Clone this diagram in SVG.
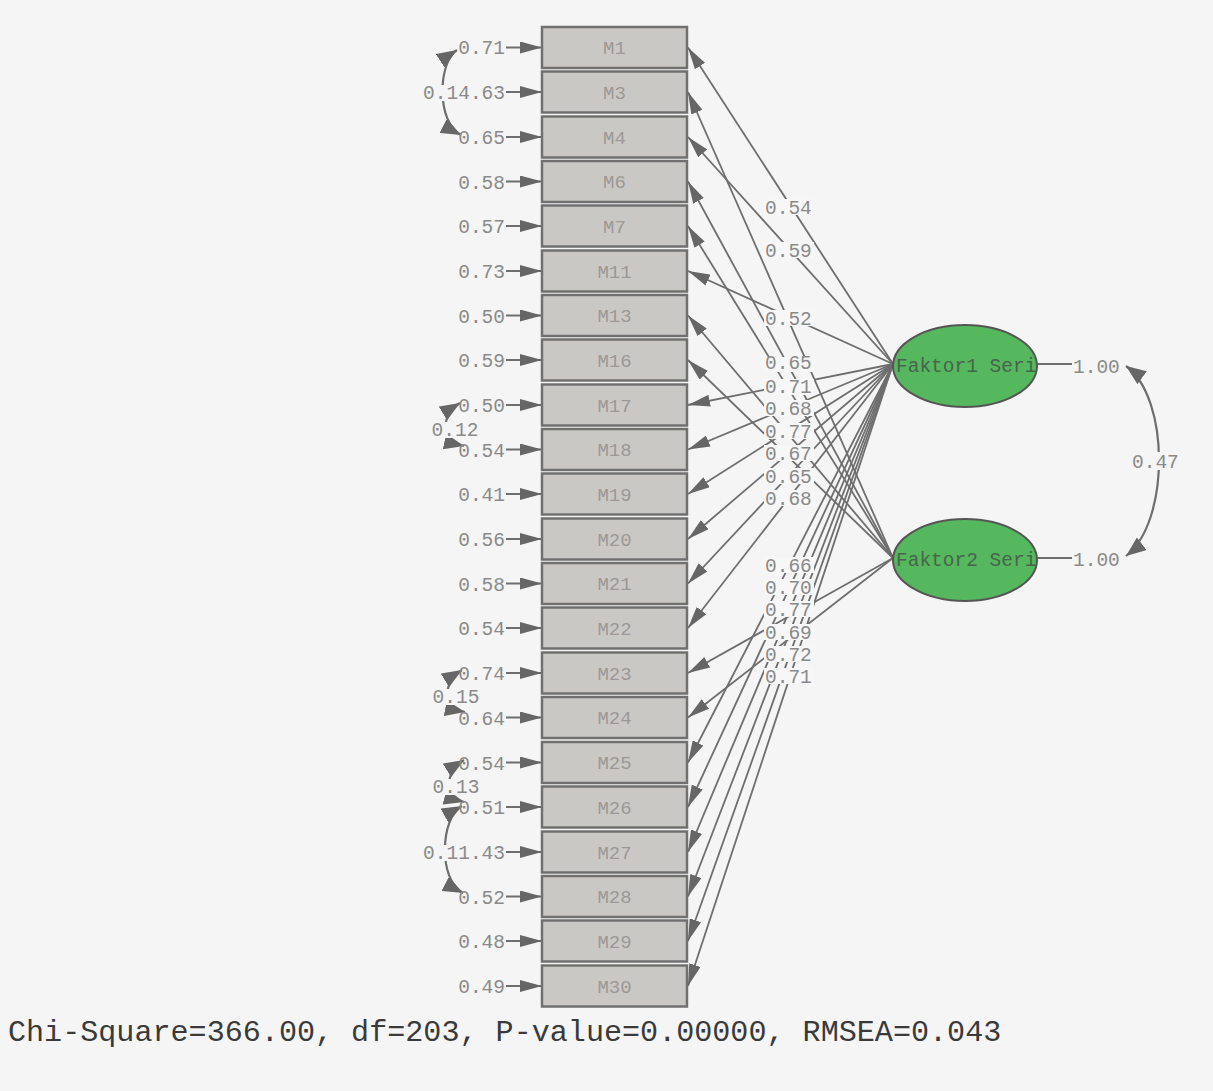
<svg xmlns="http://www.w3.org/2000/svg" width="1213" height="1091" viewBox="0 0 1213 1091">
<defs>
<style>
.bg{fill:#f4f5f4}
.box{fill:#cac8c5;stroke:#707070;stroke-width:2.5}
.bt{font-family:"Liberation Mono",monospace;font-size:19px;fill:#9c9896;text-anchor:middle}
.lab{font-family:"Liberation Mono",monospace;font-size:19.5px;fill:#8a8a8a}
.end{text-anchor:end}
.mid{text-anchor:middle}
.ln{stroke:#6e6e6e;stroke-width:1.8;fill:none}
.cv{stroke:#6e6e6e;stroke-width:2.2;fill:none}
.wb{fill:#f7f7f7}
.pb{fill:#f4f5f4}
.ell{fill:#55b75e;stroke:#555;stroke-width:2}
.et{font-family:"Liberation Mono",monospace;font-size:19.5px;fill:#48654c}
.foot{font-family:"Liberation Mono",monospace;font-size:30.1px;fill:#3a3a3a}
</style>
<marker id="ah" markerUnits="userSpaceOnUse" markerWidth="24" markerHeight="12" refX="22" refY="6" orient="auto"><path d="M0,0 L22,6 L0,12 z" fill="#666"/></marker>
<marker id="ac" markerUnits="userSpaceOnUse" markerWidth="22" markerHeight="16" refX="20" refY="8" orient="auto-start-reverse"><path d="M0,0 L20,8 L0,16 z" fill="#666"/></marker>
</defs>
<rect class="bg" x="0" y="0" width="1213" height="1091"/>

<g id="connectors">
<!-- error variance arrows -->
<g>
<line class="ln" x1="506" y1="47.5" x2="542" y2="47.5" marker-end="url(#ah)"/>
<line class="ln" x1="506" y1="92" x2="542" y2="92" marker-end="url(#ah)"/>
<line class="ln" x1="506" y1="137" x2="542" y2="137" marker-end="url(#ah)"/>
<line class="ln" x1="506" y1="181.5" x2="542" y2="181.5" marker-end="url(#ah)"/>
<line class="ln" x1="506" y1="226" x2="542" y2="226" marker-end="url(#ah)"/>
<line class="ln" x1="506" y1="271" x2="542" y2="271" marker-end="url(#ah)"/>
<line class="ln" x1="506" y1="315.5" x2="542" y2="315.5" marker-end="url(#ah)"/>
<line class="ln" x1="506" y1="360" x2="542" y2="360" marker-end="url(#ah)"/>
<line class="ln" x1="506" y1="405" x2="542" y2="405" marker-end="url(#ah)"/>
<line class="ln" x1="506" y1="449.5" x2="542" y2="449.5" marker-end="url(#ah)"/>
<line class="ln" x1="506" y1="494" x2="542" y2="494" marker-end="url(#ah)"/>
<line class="ln" x1="506" y1="539" x2="542" y2="539" marker-end="url(#ah)"/>
<line class="ln" x1="506" y1="583.5" x2="542" y2="583.5" marker-end="url(#ah)"/>
<line class="ln" x1="506" y1="628" x2="542" y2="628" marker-end="url(#ah)"/>
<line class="ln" x1="506" y1="673" x2="542" y2="673" marker-end="url(#ah)"/>
<line class="ln" x1="506" y1="717.5" x2="542" y2="717.5" marker-end="url(#ah)"/>
<line class="ln" x1="506" y1="762.5" x2="542" y2="762.5" marker-end="url(#ah)"/>
<line class="ln" x1="506" y1="807" x2="542" y2="807" marker-end="url(#ah)"/>
<line class="ln" x1="506" y1="852" x2="542" y2="852" marker-end="url(#ah)"/>
<line class="ln" x1="506" y1="896.5" x2="542" y2="896.5" marker-end="url(#ah)"/>
<line class="ln" x1="506" y1="941" x2="542" y2="941" marker-end="url(#ah)"/>
<line class="ln" x1="506" y1="986" x2="542" y2="986" marker-end="url(#ah)"/>
</g>
<!-- factor loadings -->
<g>
<line class="ln" x1="893" y1="364" x2="688" y2="47.5" marker-end="url(#ah)"/>
<line class="ln" x1="893" y1="558" x2="688" y2="92" marker-end="url(#ah)"/>
<line class="ln" x1="893" y1="364" x2="688" y2="137" marker-end="url(#ah)"/>
<line class="ln" x1="893" y1="558" x2="688" y2="181.5" marker-end="url(#ah)"/>
<line class="ln" x1="893" y1="558" x2="688" y2="226" marker-end="url(#ah)"/>
<line class="ln" x1="893" y1="364" x2="688" y2="271" marker-end="url(#ah)"/>
<line class="ln" x1="893" y1="558" x2="688" y2="315.5" marker-end="url(#ah)"/>
<line class="ln" x1="893" y1="558" x2="688" y2="360" marker-end="url(#ah)"/>
<line class="ln" x1="893" y1="364" x2="688" y2="405" marker-end="url(#ah)"/>
<line class="ln" x1="893" y1="364" x2="688" y2="449.5" marker-end="url(#ah)"/>
<line class="ln" x1="893" y1="364" x2="688" y2="494" marker-end="url(#ah)"/>
<line class="ln" x1="893" y1="364" x2="688" y2="539" marker-end="url(#ah)"/>
<line class="ln" x1="893" y1="364" x2="688" y2="583.5" marker-end="url(#ah)"/>
<line class="ln" x1="893" y1="364" x2="688" y2="628" marker-end="url(#ah)"/>
<line class="ln" x1="893" y1="558" x2="688" y2="673" marker-end="url(#ah)"/>
<line class="ln" x1="893" y1="558" x2="688" y2="717.5" marker-end="url(#ah)"/>
<line class="ln" x1="893" y1="364" x2="688" y2="762.5" marker-end="url(#ah)"/>
<line class="ln" x1="893" y1="364" x2="688" y2="807" marker-end="url(#ah)"/>
<line class="ln" x1="893" y1="364" x2="688" y2="852" marker-end="url(#ah)"/>
<line class="ln" x1="893" y1="364" x2="688" y2="896.5" marker-end="url(#ah)"/>
<line class="ln" x1="893" y1="364" x2="688" y2="941" marker-end="url(#ah)"/>
<line class="ln" x1="893" y1="364" x2="688" y2="986" marker-end="url(#ah)"/>
</g>
<!-- error covariances -->
<g>
<path class="cv" d="M457,50 C438,62 436,122 461,135" marker-start="url(#ac)" marker-end="url(#ac)"/>
<path class="cv" d="M460,403 C442,414 438,440 464,446" marker-start="url(#ac)" marker-end="url(#ac)"/>
<path class="cv" d="M462,670 C444,681 440,707 465,712" marker-start="url(#ac)" marker-end="url(#ac)"/>
<path class="cv" d="M464,760 C446,771 442,796 464,802" marker-start="url(#ac)" marker-end="url(#ac)"/>
<path class="cv" d="M462,806 C440,818 438,880 463,893" marker-start="url(#ac)" marker-end="url(#ac)"/>
</g>
<!-- factor variances and covariance -->
<line class="ln" x1="1037" y1="364" x2="1072" y2="364" stroke-width="1.2"/>
<line class="ln" x1="1037" y1="558" x2="1072" y2="558" stroke-width="1.2"/>
<path class="cv" d="M1126,366 C1170,398 1170,522 1126,556" marker-start="url(#ac)" marker-end="url(#ac)"/>
</g>

<g id="loading-labels">
<rect class="wb" x="764" y="199" width="50" height="16"/><text class="lab" x="765" y="213.5">0.54</text>
<rect class="wb" x="764" y="242" width="50" height="16"/><text class="lab" x="765" y="256.5">0.59</text>
<rect class="wb" x="764" y="310" width="50" height="16"/><text class="lab" x="765" y="324.5">0.52</text>
<rect class="wb" x="764" y="357" width="50" height="15"/><text class="lab" x="765" y="369">0.65</text>
<rect class="wb" x="764" y="379" width="50" height="16"/><text class="lab" x="765" y="393">0.71</text>
<rect class="wb" x="764" y="400" width="50" height="16"/><text class="lab" x="765" y="414.5">0.68</text>
<rect class="wb" x="764" y="423" width="50" height="16"/><text class="lab" x="765" y="437.5">0.77</text>
<rect class="wb" x="764" y="445" width="50" height="16"/><text class="lab" x="765" y="459.5">0.67</text>
<rect class="wb" x="764" y="468" width="50" height="16"/><text class="lab" x="765" y="482.5">0.65</text>
<rect class="wb" x="764" y="490" width="50" height="16"/><text class="lab" x="765" y="504.5">0.68</text>
<rect class="wb" x="764" y="557" width="50" height="16"/><text class="lab" x="765" y="571.5">0.66</text>
<rect class="wb" x="764" y="579" width="50" height="16"/><text class="lab" x="765" y="593.5">0.70</text>
<rect class="wb" x="764" y="601" width="50" height="16"/><text class="lab" x="765" y="615.5">0.77</text>
<rect class="wb" x="764" y="624" width="50" height="16"/><text class="lab" x="765" y="638.5">0.69</text>
<rect class="wb" x="764" y="646" width="50" height="16"/><text class="lab" x="765" y="660.5">0.72</text>
<rect class="wb" x="764" y="668" width="50" height="16"/><text class="lab" x="765" y="682.5">0.71</text>
</g>

<g id="error-labels">
<text class="lab end" x="505" y="54">0.71</text>
<rect class="pb" x="421" y="85" width="84" height="16"/>
<text class="lab end" x="505" y="99">0.14.63</text>
<text class="lab end" x="505" y="144">0.65</text>
<text class="lab end" x="505" y="188.5">0.58</text>
<text class="lab end" x="505" y="233">0.57</text>
<text class="lab end" x="505" y="278">0.73</text>
<text class="lab end" x="505" y="322.5">0.50</text>
<text class="lab end" x="505" y="367">0.59</text>
<text class="lab end" x="505" y="412">0.50</text>
<rect class="pb" x="431" y="422" width="48" height="16"/>
<text class="lab mid" x="455" y="436">0.12</text>
<text class="lab end" x="505" y="456.5">0.54</text>
<text class="lab end" x="505" y="501">0.41</text>
<text class="lab end" x="505" y="546">0.56</text>
<text class="lab end" x="505" y="590.5">0.58</text>
<text class="lab end" x="505" y="635">0.54</text>
<text class="lab end" x="505" y="680">0.74</text>
<rect class="pb" x="432" y="689" width="48" height="16"/>
<text class="lab mid" x="456" y="703">0.15</text>
<text class="lab end" x="505" y="724.5">0.64</text>
<text class="lab end" x="505" y="769.5">0.54</text>
<rect class="pb" x="432" y="779" width="48" height="16"/>
<text class="lab mid" x="456" y="793">0.13</text>
<text class="lab end" x="505" y="814">0.51</text>
<rect class="pb" x="421" y="845" width="84" height="16"/>
<text class="lab end" x="505" y="859">0.11.43</text>
<text class="lab end" x="505" y="903.5">0.52</text>
<text class="lab end" x="505" y="948">0.48</text>
<text class="lab end" x="505" y="993">0.49</text>
</g>

<g id="M1"><rect class="box" x="542" y="27" width="145" height="41"/><text class="bt" x="614.5" y="54">M1</text></g>
<g id="M3"><rect class="box" x="542" y="71.5" width="145" height="41"/><text class="bt" x="614.5" y="98.5">M3</text></g>
<g id="M4"><rect class="box" x="542" y="116.5" width="145" height="41"/><text class="bt" x="614.5" y="143.5">M4</text></g>
<g id="M6"><rect class="box" x="542" y="161" width="145" height="41"/><text class="bt" x="614.5" y="188">M6</text></g>
<g id="M7"><rect class="box" x="542" y="205.5" width="145" height="41"/><text class="bt" x="614.5" y="232.5">M7</text></g>
<g id="M11"><rect class="box" x="542" y="250.5" width="145" height="41"/><text class="bt" x="614.5" y="277.5">M11</text></g>
<g id="M13"><rect class="box" x="542" y="295" width="145" height="41"/><text class="bt" x="614.5" y="322">M13</text></g>
<g id="M16"><rect class="box" x="542" y="339.5" width="145" height="41"/><text class="bt" x="614.5" y="366.5">M16</text></g>
<g id="M17"><rect class="box" x="542" y="384.5" width="145" height="41"/><text class="bt" x="614.5" y="411.5">M17</text></g>
<g id="M18"><rect class="box" x="542" y="429" width="145" height="41"/><text class="bt" x="614.5" y="456">M18</text></g>
<g id="M19"><rect class="box" x="542" y="473.5" width="145" height="41"/><text class="bt" x="614.5" y="500.5">M19</text></g>
<g id="M20"><rect class="box" x="542" y="518.5" width="145" height="41"/><text class="bt" x="614.5" y="545.5">M20</text></g>
<g id="M21"><rect class="box" x="542" y="563" width="145" height="41"/><text class="bt" x="614.5" y="590">M21</text></g>
<g id="M22"><rect class="box" x="542" y="607.5" width="145" height="41"/><text class="bt" x="614.5" y="634.5">M22</text></g>
<g id="M23"><rect class="box" x="542" y="652.5" width="145" height="41"/><text class="bt" x="614.5" y="679.5">M23</text></g>
<g id="M24"><rect class="box" x="542" y="697" width="145" height="41"/><text class="bt" x="614.5" y="724">M24</text></g>
<g id="M25"><rect class="box" x="542" y="742" width="145" height="41"/><text class="bt" x="614.5" y="769">M25</text></g>
<g id="M26"><rect class="box" x="542" y="786.5" width="145" height="41"/><text class="bt" x="614.5" y="813.5">M26</text></g>
<g id="M27"><rect class="box" x="542" y="831.5" width="145" height="41"/><text class="bt" x="614.5" y="858.5">M27</text></g>
<g id="M28"><rect class="box" x="542" y="876" width="145" height="41"/><text class="bt" x="614.5" y="903">M28</text></g>
<g id="M29"><rect class="box" x="542" y="920.5" width="145" height="41"/><text class="bt" x="614.5" y="947.5">M29</text></g>
<g id="M30"><rect class="box" x="542" y="965.5" width="145" height="41"/><text class="bt" x="614.5" y="992.5">M30</text></g>

<g id="Faktor1"><ellipse class="ell" cx="965" cy="366" rx="72" ry="41"/><text class="et" x="896" y="372">Faktor1 Seri</text></g>
<g id="Faktor2"><ellipse class="ell" cx="965" cy="560" rx="72" ry="41"/><text class="et" x="896" y="566">Faktor2 Seri</text></g>

<g id="factor-labels">
<text class="lab" x="1073" y="373">1.00</text>
<text class="lab" x="1073" y="566">1.00</text>
<rect class="pb" x="1131" y="452" width="48" height="18"/>
<text class="lab" x="1132" y="468">0.47</text>
</g>

<text class="foot" x="8" y="1041">Chi-Square=366.00, df=203, P-value=0.00000, RMSEA=0.043</text>
</svg>
